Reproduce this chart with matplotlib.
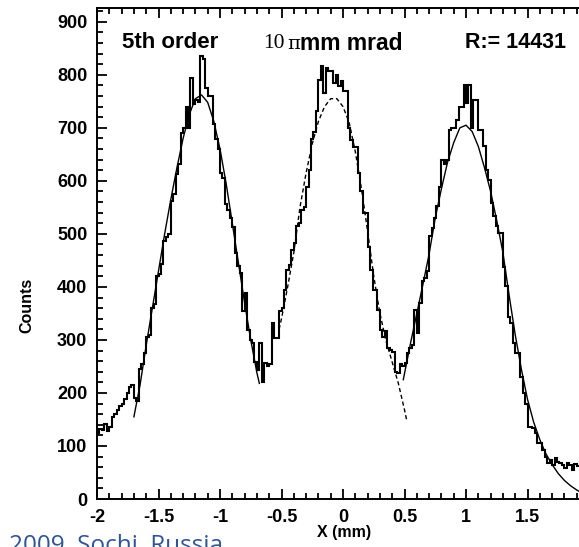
import numpy as np
import matplotlib
matplotlib.use("Agg")
import matplotlib.pyplot as plt

# histogram: bins of 0.02 mm starting at x = -2.0
bin_start = -2.0
bin_width = 0.02
counts = [
    125, 132, 130, 142, 128, 135, 155, 160, 168, 175,   # -2.00
    180, 188, 200, 212, 215, 190, 185, 245, 255, 275,   # -1.80
    305, 310, 360, 368, 420, 425, 444, 487, 495, 500,   # -1.60
    562, 575, 612, 631, 691, 700, 740, 700, 794, 745,   # -1.40
    752, 749, 835, 830, 775, 760, 760, 707, 679, 660,   # -1.20
    615, 605, 557, 545, 530, 513, 463, 440, 426, 355,   # -1.00
    388, 319, 300, 294, 259, 243, 294, 221, 256, 250,   # -0.80
    255, 332, 304, 303, 355, 361, 394, 432, 441, 470,   # -0.60
    482, 514, 520, 545, 551, 589, 621, 678, 693, 731,   # -0.40
    791, 816, 766, 813, 807, 807, 785, 800, 778, 788,   # -0.20
    769, 769, 700, 677, 664, 664, 614, 580, 539, 539,   # 0.00
    476, 432, 394, 394, 356, 319, 306, 316, 284, 281,   # 0.20
    278, 240, 237, 255, 250, 256, 275, 285, 290, 357,   # 0.40
    313, 370, 411, 417, 430, 496, 511, 530, 552, 589,   # 0.60
    640, 631, 640, 696, 700, 700, 715, 740, 740, 781,   # 0.80
    747, 781, 700, 753, 753, 696, 696, 665, 621, 602,   # 1.00
    558, 533, 514, 501, 501, 438, 401, 344, 331, 294,   # 1.20
    275, 275, 231, 199, 180, 136, 136, 133, 124, 105,   # 1.40
    105, 92, 80, 67, 73, 64, 77, 70, 67, 64,            # 1.60
    58, 67, 64, 55, 66, 62,                             # 1.80
]

# fitted curves
fit1_x = [-1.70, -1.65, -1.60, -1.55, -1.50, -1.45, -1.40, -1.35, -1.30, -1.25, -1.20,
          -1.15, -1.10, -1.05, -1.00, -0.95, -0.90, -0.85, -0.80, -0.75, -0.70, -0.68]
fit1_y = [155, 215, 290, 360, 430, 500, 565, 625, 680, 725, 755,
          762, 748, 712, 660, 595, 520, 445, 370, 300, 238, 218]

fit2_x = [-0.52, -0.50, -0.45, -0.40, -0.35, -0.30, -0.25, -0.20, -0.15, -0.10, -0.05,
          0.00, 0.05, 0.10, 0.15, 0.20, 0.25, 0.30, 0.35, 0.40, 0.45, 0.50, 0.52]
fit2_y = [320, 340, 400, 465, 550, 615, 670, 712, 740, 755, 755,
          740, 710, 655, 585, 505, 420, 350, 298, 258, 218, 168, 146]

fit3_x = [0.49, 0.55, 0.60, 0.65, 0.70, 0.75, 0.80, 0.85, 0.90, 0.95, 1.00, 1.05, 1.10,
          1.15, 1.20, 1.25, 1.30, 1.35, 1.40, 1.45, 1.50, 1.55, 1.60, 1.65, 1.70,
          1.75, 1.80, 1.85, 1.90, 1.93]
fit3_y = [225, 295, 350, 405, 462, 530, 585, 635, 672, 700, 705, 693, 665,
          625, 580, 525, 465, 385, 310, 245, 188, 145, 112, 85, 65,
          48, 35, 25, 17, 13]

W, H = 579, 547
fig = plt.figure(figsize=(W / 100, H / 100), dpi=100)
ax = fig.add_axes([97 / W, 48 / H, (580.4 - 97) / W, 491 / H])

edges = bin_start + bin_width * np.arange(len(counts) + 1)
ax.stairs(counts, edges, baseline=None, color="black", lw=1.5)
ax.plot(fit1_x, fit1_y, color="black", lw=1.0)
ax.plot(fit2_x, fit2_y, color="black", lw=1.0, ls=(0, (3, 2)))
ax.plot(fit3_x, fit3_y, color="black", lw=1.0)

ax.set_xlim(-2, 1.93)
ax.set_ylim(0, 926)
ax.set_xticks(np.arange(-2, 2.0, 0.5))
ax.set_xticklabels(["-2", "-1.5", "-1", "-0.5", "0", "0.5", "1", "1.5"])
ax.set_xticks(np.arange(-2, 1.95, 0.1), minor=True)
ax.set_yticks(np.arange(0, 901, 100))
ax.set_yticks(np.arange(0, 921, 20), minor=True)

for s in ax.spines.values():
    s.set_linewidth(1.4)
ax.tick_params(which="both", direction="in", top=True, right=False, width=1.3)
ax.tick_params(which="major", length=7.5, labelsize=13, pad=7)
ax.tick_params(which="minor", length=4)
for lab in ax.get_xticklabels() + ax.get_yticklabels():
    lab.set_fontfamily("Liberation Sans")
    lab.set_fontweight("bold")

def fx(px):
    return px / W

def fy(py):
    return 1 - py / H

sans = "Liberation Sans"
fig.text(fx(27), fy(305), "Counts", rotation=90, ha="center", va="center",
         family=sans, weight="bold", fontsize=11.5)
fig.text(fx(344), fy(533), "X (mm)", ha="center", va="center",
         family=sans, weight="bold", fontsize=11.5)

fig.text(fx(122), fy(43), "5th order", ha="left", va="center",
         family=sans, weight="bold", fontsize=16)
fig.text(fx(263), fy(43), "10", ha="left", va="center",
         family="Liberation Serif", fontsize=15.5)
fig.text(fx(287), fy(44), "\u03c0", ha="left", va="center",
         family="DejaVu Serif", fontsize=14)
fig.text(fx(300), fy(43), "mm mrad", ha="left", va="center",
         family=sans, weight="bold", fontsize=16.5)
fig.text(fx(465), fy(43), "R:= 14431", ha="left", va="center",
         family=sans, weight="bold", fontsize=15.5)

fig.text(fx(9), fy(552), "2009, Sochi, Russia", ha="left", va="baseline",
         family="Open Sans", fontsize=17.5, color="#2f5597")

fig.savefig("out.png", dpi=100)
